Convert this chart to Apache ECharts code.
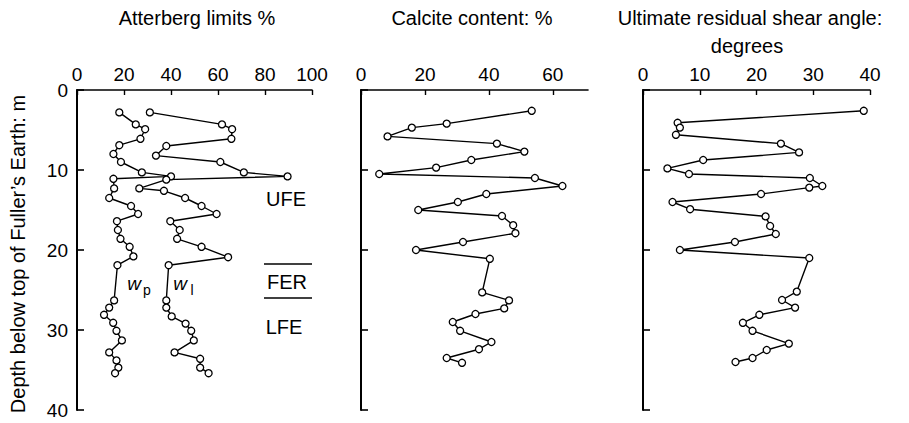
<!DOCTYPE html>
<html>
<head>
<meta charset="utf-8">
<script src="https://cdn.jsdelivr.net/npm/echarts@6/dist/echarts.min.js"></script>
<style>
  html, body { margin: 0; padding: 0; background: #fff; }
  #chart { width: 909px; height: 423px; }
</style>
</head>
<body>
<div id="chart"></div>
<script>
// depth below top of Fuller's Earth (m) and the measured values
const depthWp = [2.8, 4.3, 4.9, 6.1, 6.9, 8.0, 9.0, 10.3, 10.8, 11.1, 12.3, 13.5, 14.5, 15.5, 16.4, 17.5, 18.6, 19.6, 20.8, 21.9, 26.3, 27.2, 28.1, 29.1, 30.1, 31.3, 32.8, 33.8, 34.7, 35.4]
const wp = [18, 25, 29, 27, 18, 15.5, 18.7, 27.6, 40, 15.5, 15.8, 13.7, 23, 26, 17, 17.4, 18.5, 22.4, 24, 17.2, 15.8, 13.7, 11.5, 15.4, 16.8, 19.1, 13.7, 16.8, 17.6, 16.2]

const depthWl = [2.8, 4.3, 4.9, 6.1, 7.0, 8.2, 9.0, 10.3, 10.8, 11.2, 12.3, 12.6, 13.5, 14.5, 15.5, 16.4, 17.5, 18.6, 19.6, 20.9, 21.9, 26.3, 27.2, 28.3, 29.2, 30.1, 31.3, 32.8, 33.6, 34.7, 35.4]
const wl = [31, 61.7, 66, 65.7, 38, 33.6, 61, 71, 89.6, 38, 26.5, 37, 46, 53, 59.4, 39.7, 43.7, 42.6, 53, 64.3, 39, 38, 38, 40.3, 46.2, 48.6, 49.7, 41.5, 52.4, 52.4, 56]

const depthCalcite = [2.6, 4.2, 4.7, 5.8, 6.7, 7.7, 8.75, 9.7, 10.5, 11.0, 12.0, 13.0, 14.0, 15.0, 15.75, 16.9, 17.9, 19.0, 20.0, 21.1, 25.3, 26.3, 27.3, 28.0, 29.0, 30.1, 31.5, 32.4, 33.5, 34.1]
const calcite = [53.4, 26.8, 15.9, 8.3, 42.5, 51.1, 34.5, 23.5, 5.7, 54.4, 63, 39.2, 30.3, 17.9, 44.1, 47.6, 48.3, 31.9, 17.2, 40.3, 37.9, 46.3, 44.8, 35.8, 28.7, 31.0, 40.8, 36.9, 26.8, 31.6]

const depthShear = [2.6, 4.1, 4.7, 5.6, 6.7, 7.8, 8.75, 9.8, 10.5, 11.0, 12.0, 12.2, 13.0, 14.0, 14.9, 15.8, 17.0, 18.0, 19.0, 20.0, 21.0, 25.2, 26.25, 27.2, 28.1, 29.1, 30.1, 31.7, 32.5, 33.5, 34.0]
const shear = [38.9, 6.1, 6.5, 5.8, 24.3, 27.5, 10.6, 4.3, 8.1, 29.4, 31.6, 29.3, 20.8, 5.2, 8.3, 21.6, 22.4, 23.4, 16.2, 6.5, 29.3, 27.1, 24.5, 26.8, 20.5, 17.6, 19.3, 25.7, 21.8, 19.3, 16.3]

const depthTicks = [0, 10, 20, 30, 40]
const atterbergTicks = [0, 20, 40, 60, 80, 100]
const calciteTicks = [0, 20, 40, 60]
const shearTicks = [0, 10, 20, 30, 40]

const FONT = "'Liberation Sans', Arial, sans-serif"

const pairs = (xs, ys) => xs.map((x, i) => [x, ys[i]])

const xAxisFor = (gridIndex, max, ticks) => ({
  type: "value",
  gridIndex,
  position: "top",
  min: 0,
  max,
  axisLine: { show: true, lineStyle: { color: "#000", width: 1.6 } },
  axisTick: { show: true, inside: true, length: 5, customValues: ticks, lineStyle: { color: "#000", width: 1.4 } },
  axisLabel: { customValues: ticks, color: "#000", fontSize: 19, fontFamily: FONT, margin: 6 },
  splitLine: { show: false }
})

const yAxisFor = (gridIndex, showLabels) => ({
  type: "value",
  gridIndex,
  inverse: true,
  min: 0,
  max: 40,
  interval: 10,
  axisLine: { show: true, lineStyle: { color: "#000", width: 2 } },
  axisTick: { show: true, inside: true, length: 7, lineStyle: { color: "#000", width: 1.6 } },
  axisLabel: { show: showLabels, customValues: depthTicks, color: "#000", fontSize: 19, fontFamily: FONT, margin: 9 },
  splitLine: { show: false }
})

const lineSeries = (name, idx, data) => ({
  name,
  type: "line",
  xAxisIndex: idx,
  yAxisIndex: idx,
  data,
  symbol: "circle",
  symbolSize: 7,
  lineStyle: { color: "#000", width: 1.4 },
  itemStyle: { color: "#fff", borderColor: "#000", borderWidth: 1.3 },
  emphasis: { disabled: true },
  animation: false
})

const txt = (text, x, y, extra, rotation) => ({
  type: "text",
  x, y,
  rotation: rotation || 0,
  style: Object.assign({ text, fill: "#000", font: "19px " + FONT, textAlign: "center", textVerticalAlign: "middle" }, extra || {})
})

const chart = echarts.init(document.getElementById("chart"), null, { renderer: "svg" })

chart.setOption({
  backgroundColor: "#fff",
  animation: false,
  grid: [
    { left: 77, top: 90, width: 235, height: 320 },
    { left: 361, top: 90, width: 227, height: 320 },
    { left: 643, top: 90, width: 227, height: 320 }
  ],
  xAxis: [
    xAxisFor(0, 100, atterbergTicks),
    xAxisFor(1, 71, calciteTicks),
    xAxisFor(2, 40, shearTicks)
  ],
  yAxis: [yAxisFor(0, true), yAxisFor(1, false), yAxisFor(2, false)],
  series: [
    lineSeries("wp", 0, pairs(wp, depthWp)),
    lineSeries("wl", 0, pairs(wl, depthWl)),
    lineSeries("Calcite", 1, pairs(calcite, depthCalcite)),
    lineSeries("Shear", 2, pairs(shear, depthShear))
  ],
  graphic: [
    txt("Atterberg limits %", 197, 18, { font: "20px " + FONT }),
    txt("Calcite content: %", 472, 18, { font: "20px " + FONT }),
    txt("Ultimate residual shear angle:", 750, 18, { font: "20px " + FONT }),
    txt("degrees", 747, 46, { font: "20px " + FONT }),
    txt("Depth below top of Fuller\u2019s Earth: m", 18, 254, { font: "20px " + FONT }, Math.PI / 2),
    txt("UFE", 286, 199, { font: "20px " + FONT }),
    txt("FER", 287, 282, { font: "20px " + FONT }),
    txt("LFE", 284, 327, { font: "20px " + FONT }),
    txt("w", 134, 283, { font: "italic 19px " + FONT }),
    txt("p", 147, 290, { font: "14px " + FONT }),
    txt("w", 180, 283, { font: "italic 19px " + FONT }),
    txt("l", 192, 290, { font: "14px " + FONT }),
    { type: "line", shape: { x1: 264, y1: 264, x2: 312, y2: 264 }, style: { stroke: "#000", lineWidth: 1.3 } },
    { type: "line", shape: { x1: 264, y1: 298, x2: 312, y2: 298 }, style: { stroke: "#000", lineWidth: 1.3 } }
  ]
})

window.addEventListener("resize", () => {
  chart.resize()
})
</script>
</body>
</html>
